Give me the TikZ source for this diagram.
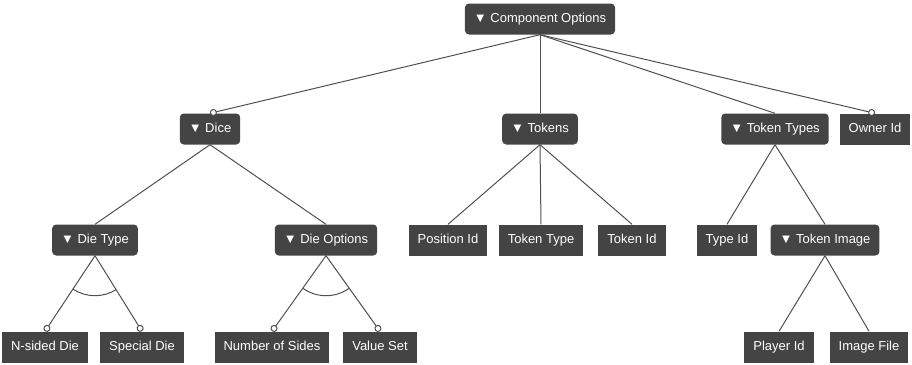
\documentclass[tikz,border=0pt]{standalone}
\usepackage{fontspec}
\setmainfont{Liberation Sans}
\usetikzlibrary{arrows.meta, calc}
\definecolor{boxgray}{HTML}{444444}
\definecolor{linegray}{HTML}{505050}
\tikzstyle{leaf}=[fill=boxgray, text=white, font=\fontsize{13}{15}\selectfont, minimum height=31pt, inner xsep=9pt, inner ysep=0pt, text height=9.5pt, text depth=2.5pt]
\tikzstyle{group}=[leaf, rounded corners=4pt]
\tikzstyle{link}=[draw=linegray, line width=1pt]
\tikzstyle{optional}=[-{Circle[length=7pt, width=7pt, fill=white]}]
% arc between the two links of an alternative group
\newcommand{\altarc}[3]{%
  \draw[link] let \p1=($(#2.north)-(#1.south)$), \p2=($(#3.north)-(#1.south)$),
    \n1={atan2(\y1,\x1)}, \n2={atan2(\y2,\x2)} in
    ($(#1.south)+(\n1:40pt)$) arc[start angle=\n1, end angle=\n2, radius=40pt];}

\begin{document}
\begin{tikzpicture}[x=1pt, y=1pt]
  \useasboundingbox (0,0) rectangle (912,-364);
  \node[group] (comp) at (540,-19) {▼ Component Options};
  \node[group] (dice) at (210,-129) {▼ Dice};
  \node[group] (tokens) at (540,-129) {▼ Tokens};
  \node[group] (ttypes) at (775,-129) {▼ Token Types};
  \node[leaf] (owner) at (875,-129) {Owner Id};
  \node[group] (dietype) at (95,-240) {▼ Die Type};
  \node[group] (dieopts) at (326,-240) {▼ Die Options};
  \node[leaf] (posid) at (448,-240) {Position Id};
  \node[leaf] (toktype) at (541,-240) {Token Type};
  \node[leaf] (tokid) at (632,-240) {Token Id};
  \node[leaf] (typeid) at (727,-240) {Type Id};
  \node[group] (tokimg) at (825,-240) {▼ Token Image};
  \node[leaf] (nsided) at (45,-347) {N-sided Die};
  \node[leaf] (special) at (142,-347) {Special Die};
  \node[leaf] (nsides) at (272,-347) {Number of Sides};
  \node[leaf] (valset) at (380,-347) {Value Set};
  \node[leaf] (player) at (779,-347) {Player Id};
  \node[leaf] (imgfile) at (869,-347) {Image File};
  \path[link] (comp.south) edge[optional] (dice.north);
  \path[link] (comp.south) edge (tokens.north);
  \path[link] (comp.south) edge (ttypes.north);
  \path[link] (comp.south) edge[optional] (owner.north);
  \path[link] (dice.south) edge (dietype.north);
  \path[link] (dice.south) edge (dieopts.north);
  \path[link] (tokens.south) edge (posid.north);
  \path[link] (tokens.south) edge (toktype.north);
  \path[link] (tokens.south) edge (tokid.north);
  \path[link] (ttypes.south) edge (typeid.north);
  \path[link] (ttypes.south) edge (tokimg.north);
  \path[link] (dietype.south) edge[optional] (nsided.north);
  \path[link] (dietype.south) edge[optional] (special.north);
  \path[link] (dieopts.south) edge[optional] (nsides.north);
  \path[link] (dieopts.south) edge[optional] (valset.north);
  \path[link] (tokimg.south) edge (player.north);
  \path[link] (tokimg.south) edge (imgfile.north);
  \altarc{dietype}{nsided}{special}
  \altarc{dieopts}{nsides}{valset}
\end{tikzpicture}
\end{document}
